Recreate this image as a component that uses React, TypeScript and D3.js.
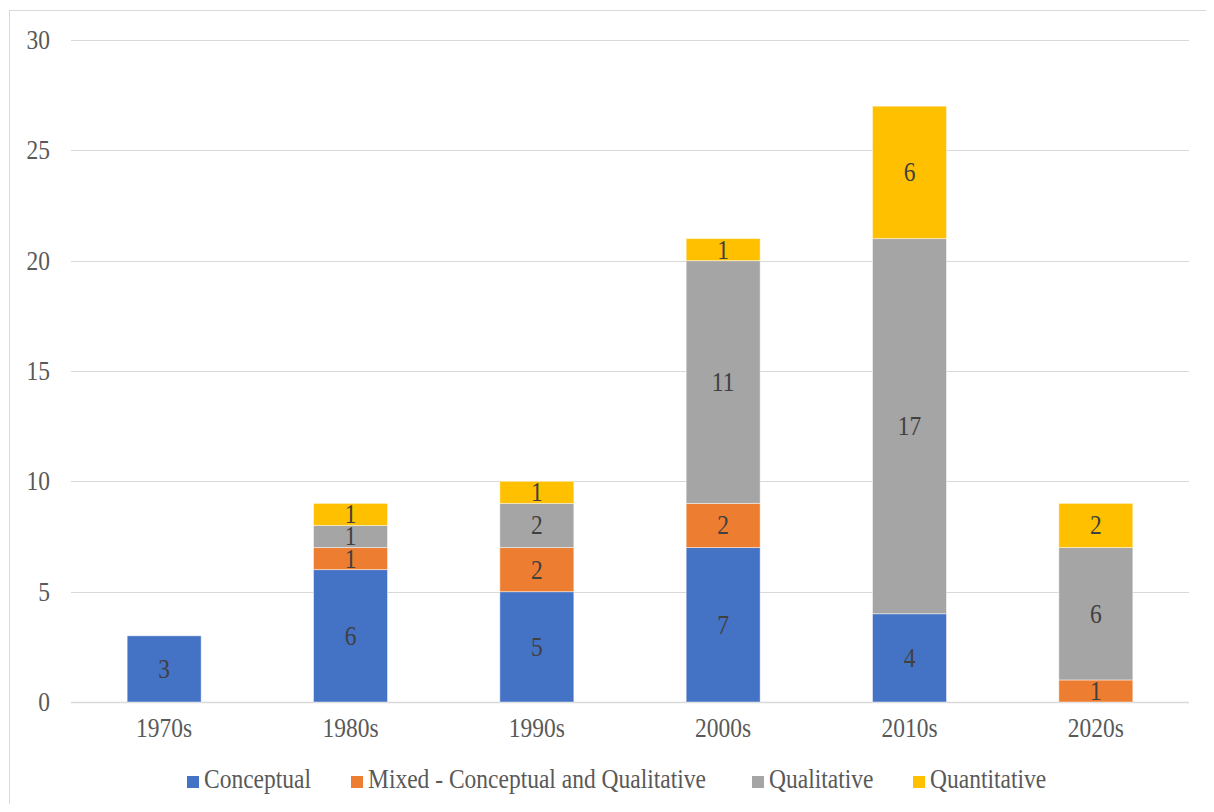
import React from "react";
import * as d3 from "d3";

const decades = ["1970s", "1980s", "1990s", "2000s", "2010s", "2020s"];
const seriesNames = ["Conceptual", "Mixed - Conceptual and Qualitative", "Qualitative", "Quantitative"];
const conceptual = [3, 6, 5, 7, 4, 0];
const mixed = [0, 1, 2, 2, 0, 1];
const qualitative = [0, 1, 2, 11, 17, 6];
const quantitative = [0, 1, 1, 1, 6, 2];
const colors = ["#4472C4", "#ED7D31", "#A5A5A5", "#FFC000"];
const yTicks = [0, 5, 10, 15, 20, 25, 30];

const W = 1214;
const H = 812;
const plot = { left: 71, right: 1189, top: 40, bottom: 702 };
const legendX = [187, 351, 752, 913];
const FONT = "'Liberation Serif', 'Times New Roman', serif";
const FS = 23.5;
const STRETCH = 1.12;

// Text drawn slightly taller than wide, as the serif labels appear.
function T({
  x,
  y,
  anchor = "start",
  central = false,
  fill,
  children,
}: {
  x: number;
  y: number;
  anchor?: "start" | "middle" | "end";
  central?: boolean;
  fill: string;
  children: React.ReactNode;
}) {
  return (
    <text
      transform={`translate(${x},${y}) scale(1,${STRETCH})`}
      textAnchor={anchor}
      dominantBaseline={central ? "central" : "auto"}
      fontSize={FS}
      fill={fill}
    >
      {children}
    </text>
  );
}

export default function App() {
  const x = d3
    .scaleBand<string>()
    .domain(decades)
    .range([plot.left, plot.right])
    .paddingInner(0.603)
    .paddingOuter(0.3015);
  const y = d3.scaleLinear().domain([0, 30]).range([plot.bottom, plot.top]);

  const rows = decades.map((d, i) => ({
    decade: d,
    Conceptual: conceptual[i],
    Mixed: mixed[i],
    Qualitative: qualitative[i],
    Quantitative: quantitative[i],
  }));
  const keys = ["Conceptual", "Mixed", "Qualitative", "Quantitative"];
  const stacked = d3.stack<any>().keys(keys)(rows);

  return (
    <div style={{ margin: -8 }}>
      <svg width={W} height={H} style={{ display: "block", fontFamily: FONT }}>
        <rect x={0} y={0} width={W} height={H} fill="#fff" />
        <rect x={9.5} y={10.5} width={W + 10} height={H + 10} fill="none" stroke="#d9d9d9" strokeWidth={1} />
        {yTicks.map((t) => (
          <g key={t}>
            <line
              x1={plot.left}
              x2={plot.right}
              y1={Math.round(y(t)) + 0.5}
              y2={Math.round(y(t)) + 0.5}
              stroke="#d9d9d9"
              strokeWidth={t === 0 ? 1.5 : 1}
            />
            <T x={50} y={y(t)} anchor="end" central fill="#595959">
              {t}
            </T>
          </g>
        ))}
        {stacked.map((layer, si) => (
          <g key={layer.key}>
            {layer.map((seg, i) => {
              const v = seg[1] - seg[0];
              if (v <= 0) return null;
              const bx = x(decades[i])!;
              const top = y(seg[1]);
              const h = y(seg[0]) - y(seg[1]);
              return (
                <g key={i}>
                  <rect
                    x={bx}
                    y={top}
                    width={x.bandwidth()}
                    height={h}
                    fill={colors[si]}
                    stroke="#ffffff"
                    strokeOpacity={0.45}
                    strokeWidth={1}
                  />
                  <T x={bx + x.bandwidth() / 2} y={top + h / 2} anchor="middle" central fill="#404040">
                    {v}
                  </T>
                </g>
              );
            })}
          </g>
        ))}
        {decades.map((d) => (
          <T key={d} x={x(d)! + x.bandwidth() / 2} y={737} anchor="middle" fill="#595959">
            {d}
          </T>
        ))}
        {seriesNames.map((name, i) => (
          <g key={name}>
            <rect x={legendX[i]} y={776} width={12} height={12} fill={colors[i]} />
            <T x={legendX[i] + 17} y={788} fill="#595959">
              {name}
            </T>
          </g>
        ))}
      </svg>
    </div>
  );
}
